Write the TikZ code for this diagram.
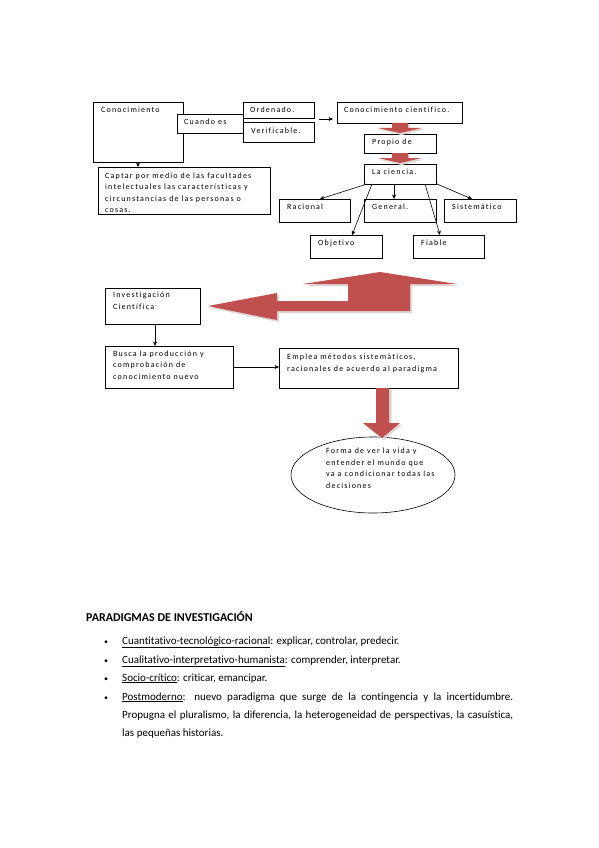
\documentclass[tikz,border=0pt]{standalone}
\usepackage{fontspec}
\setmainfont{Carlito}[Ligatures=NoCommon]
\newfontfamily\boxfont[LetterSpace=15,Ligatures=NoCommon]{Carlito}
\usetikzlibrary{arrows.meta,shapes.geometric}
\definecolor{arrred}{RGB}{192,80,77}
\definecolor{shad}{RGB}{222,212,212}
\newcommand\boxtext{\boxfont\fontsize{8}{11.5}\selectfont}
\newcommand\bodytext{\fontsize{11}{13}\selectfont}
\tikzset{
  box/.style={draw, line width=0.6pt, fill=white, inner sep=0pt, outer sep=0pt, anchor=north west},
  lbl/.style={anchor=north west, inner sep=0pt, align=left, font=\boxtext, xshift=8pt, yshift=-4.5pt},
  arr/.style={-{Stealth[length=4.5pt,width=4pt]}, line width=0.6pt},
  redarrow/.style={fill=arrred, draw=none},
  redshadow/.style={fill=shad, draw=none},
  body/.style={anchor=base west, inner sep=0pt, font=\bodytext},
  bul/.style={anchor=base west, inner sep=0pt, font=\fontsize{8}{10}\selectfont},
}
\begin{document}
\begin{tikzpicture}[x=1pt,y=-1pt]
\useasboundingbox (0,0) rectangle (599,848);
\fill[white] (0,0) rectangle (599,848);

% top boxes
\node[box, minimum width=90pt, minimum height=60pt, label={[lbl]north west:{Conocimiento}}] (con) at (93,102) {};
\node[box, minimum width=71pt, minimum height=16pt, label={[lbl, xshift=-1pt]north west:{Ordenado.}}] (ord) at (243,102) {};
\node[box, minimum width=71pt, minimum height=20pt, label={[lbl, yshift=-1.5pt]north west:{Verificable.}}] (ver) at (243,122) {};
\node[box, minimum width=66pt, minimum height=19pt, label={[lbl, xshift=-1pt]north west:{Cuando es}}] (cuando) at (177,114) {};
\node[box, minimum width=125pt, minimum height=21pt, label={[lbl, xshift=-1pt]north west:{Conocimiento científico.}}] (cc) at (337,102) {};
\node[box, minimum width=72pt, minimum height=19pt, label={[lbl]north west:{Propio de}}] (propio) at (364,134) {};
\node[box, minimum width=72pt, minimum height=20pt, label={[lbl]north west:{La ciencia.}}] (ciencia) at (364,164) {};
\node[box, minimum width=71pt, minimum height=23pt, label={[lbl]north west:{Racional}}] (rac) at (279,199) {};
\node[box, minimum width=72pt, minimum height=23pt, label={[lbl]north west:{General.}}] (gen) at (364,199) {};
\node[box, minimum width=72pt, minimum height=23pt, label={[lbl]north west:{Sistemático}}] (sis) at (444,199) {};
\node[box, minimum width=72pt, minimum height=23pt, label={[lbl]north west:{Objetivo}}] (obj) at (310,235) {};
\node[box, minimum width=71pt, minimum height=23pt, label={[lbl]north west:{Fiable}}] (fia) at (413,235) {};
\node[box, minimum width=172pt, minimum height=47pt, label={[lbl, xshift=-1pt, yshift=-1pt]north west:{Captar por medio de las facultades\\intelectuales las características y\\circunstancias de las personas o\\cosas.}}] (cap) at (98,167) {};

% connectors top
\coordinate (a1) at (319,119);
\draw[arr, shorten >=4pt] (a1) -- (a1 -| cc.west);
\draw[arr] ([xshift=45pt]con.south west) -- ([xshift=45pt]con.south west |- cap.north);
\draw[arr] ([xshift=3pt]ciencia.south west) -- ([xshift=41pt]rac.north west);
\draw[arr] ([xshift=30pt]ciencia.south west) -- ([xshift=30pt]gen.north west);
\draw[arr] ([xshift=8pt]ciencia.south west) -- ([xshift=42pt]obj.north west);
\draw[arr] ([xshift=61pt]ciencia.south west) -- ([xshift=27pt]fia.north west);
\draw[arr] ([xshift=73pt]ciencia.south west) -- ([xshift=28pt]sis.north west);

% small red block arrows
\foreach \yy in {123,153} {
  \fill[redshadow] (393.5,\yy+1.5) -- (409.5,\yy+1.5) -- (409.5,\yy+6.5) -- (424.5,\yy+6.5) -- (401.5,\yy+12) -- (378.5,\yy+6.5) -- (393.5,\yy+6.5) -- cycle;
  \fill[redarrow] (392,\yy) -- (408,\yy) -- (408,\yy+5) -- (422,\yy+5) -- (400,\yy+10) -- (378,\yy+5) -- (392,\yy+5) -- cycle;
}

% big bent arrow
\fill[redshadow] (210,308) -- (279,295) -- (279,303) -- (349,303) -- (349,286) -- (305,286) -- (382,274) -- (459,286) -- (412,286) -- (412,313) -- (279,313) -- (279,322) -- cycle;
\fill[redarrow] (208,306) -- (277,293) -- (277,301) -- (348,301) -- (348,284) -- (303,284) -- (380,272) -- (457,284) -- (410,284) -- (410,311) -- (277,311) -- (277,320) -- cycle;

% lower boxes
\node[box, minimum width=95pt, minimum height=36pt, label={[lbl, yshift=0.5pt]north west:{Investigación\\Científica}}] (inv) at (105,288) {};
\node[box, minimum width=128pt, minimum height=42pt, label={[lbl]north west:{Busca la producción y\\comprobación de\\conocimiento nuevo}}] (busca) at (105,346) {};
\node[box, minimum width=179pt, minimum height=40pt, label={[lbl, yshift=-1.5pt]north west:{Emplea métodos sistemáticos,\\racionales de acuerdo al paradigma}}] (emplea) at (279,348) {};
\node[ellipse, draw, line width=0.6pt, minimum width=164pt, minimum height=76pt, inner sep=0pt] (ell) at (373,475) {};
\node[anchor=north west, inner sep=0pt, align=left, font=\boxtext] (ftxt) at (326,448) {Forma de ver la vida y\\entender el mundo que\\va a condicionar todas las\\decisiones};

\draw[arr] ([xshift=50pt]inv.south west) -- ([xshift=50pt]inv.south west |- busca.north);
\draw[arr] (busca.east) -- (busca.east -| emplea.west);

% red down arrow to ellipse
\fill[redshadow] (378.5,389.5) -- (391.5,389.5) -- (391.5,424.5) -- (402.5,424.5) -- (383.5,440) -- (364.5,424.5) -- (378.5,424.5) -- cycle;
\fill[redarrow] (376,388) -- (389,388) -- (389,423) -- (400,423) -- (382,438) -- (363,423) -- (376,423) -- cycle;

% bottom text
\node[body, font=\fontsize{12}{14}\selectfont\bfseries] (ph) at (86,621) {PARADIGMAS DE INVESTIGACIÓN};
\node[bul] (b1) at (104,644) {\textbullet};
\node[body] (t1) at (122,644) {\underline{Cuantitativo-tecnológico-racional}: explicar, controlar, predecir.};
\node[bul] (b2) at (104,663) {\textbullet};
\node[body] (t2) at (122,663) {\underline{Cualitativo-interpretativo-humanista}: comprender, interpretar.};
\node[bul] (b3) at (104,681) {\textbullet};
\node[body] (t3) at (122,681) {\underline{Socio-crítico}: criticar, emancipar.};
\node[bul] (b4) at (104,700) {\textbullet};
\node[body] (t4) at (122,700) {\makebox[391pt][s]{\underline{Postmoderno}: nuevo paradigma que surge de la contingencia y la incertidumbre.}};
\node[body] (t5) at (122,718) {\makebox[391pt][s]{Propugna el pluralismo, la diferencia, la heterogeneidad de perspectivas, la casuística,}};
\node[body] (t6) at (122,736) {las pequeñas historias.};
\end{tikzpicture}
\end{document}
